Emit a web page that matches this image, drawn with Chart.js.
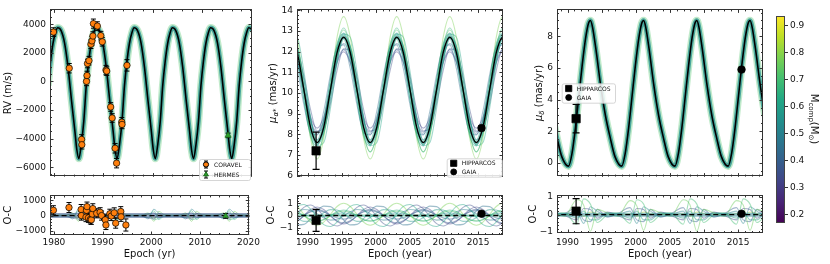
<!DOCTYPE html>
<html>
<head>
<meta charset="utf-8">
<script src="https://cdn.jsdelivr.net/npm/chart.js@4.4.1/dist/chart.umd.min.js"></script>
<style>
  html, body { margin: 0; padding: 0; background: #fff; }
  #page { position: relative; width: 830px; height: 264px; overflow: hidden; }
  canvas { position: absolute; }
</style>
</head>
<body>
<div id="page">
  <canvas id="rvMain" width="262" height="186" style="left:0;top:0"></canvas>
  <canvas id="rvRes" width="262" height="78" style="left:0;top:186px"></canvas>
  <canvas id="raMain" width="251" height="186" style="left:262px;top:0"></canvas>
  <canvas id="raRes" width="251" height="78" style="left:262px;top:186px"></canvas>
  <canvas id="decMain" width="257" height="186" style="left:516px;top:0"></canvas>
  <canvas id="decRes" width="257" height="78" style="left:516px;top:186px"></canvas>
  <canvas id="cbar" width="64" height="264" style="left:766px;top:0"></canvas>
</div>
<script>
// ====== 軸刻度 ======
const RV_X_TICKS = [1980, 1990, 2000, 2010, 2020];
const RV_Y_TICKS = [-6000, -4000, -2000, 0, 2000, 4000];
const RV_OC_TICKS = [-1000, 0, 1000];
const PM_X_TICKS = [1990, 1995, 2000, 2005, 2010, 2015];
const RA_Y_TICKS = [6, 7, 8, 9, 10, 11, 12, 13, 14];
const DEC_Y_TICKS = [0, 2, 4, 6, 8];
const PM_OC_TICKS = [-1, 0, 1];
const CBAR_TICKS = [0.2, 0.3, 0.4, 0.5, 0.6, 0.7, 0.8, 0.9];
const M_MIN = 0.168, M_MAX = 0.937;
const PM_X_MIN = 1988.45, PM_X_MAX = 2018.65;
const ZERO_X = [1975, 2025];
const ZERO_Y = [0, 0];

// ====== RV 最佳解曲線 ======
const RV_FIT_T = [1977.3, 1977.8, 1978.3, 1978.8, 1979.3, 1979.8, 1980.3, 1980.75,
  1981.45, 1982.15, 1982.85, 1983.55, 1984.25, 1984.65, 1985.05,
  1985.55, 1986.05, 1986.55, 1987.05, 1987.55, 1988.05, 1988.5,
  1989.2, 1989.9, 1990.6, 1991.3, 1992.0, 1992.4, 1992.8,
  1993.3, 1993.8, 1994.3, 1994.8, 1995.3, 1995.8, 1996.25,
  1996.95, 1997.65, 1998.35, 1999.05, 1999.75, 2000.15, 2000.55,
  2001.05, 2001.55, 2002.05, 2002.55, 2003.05, 2003.55, 2004.0,
  2004.7, 2005.4, 2006.1, 2006.8, 2007.5, 2007.9, 2008.3,
  2008.8, 2009.3, 2009.8, 2010.3, 2010.8, 2011.3, 2011.75,
  2012.45, 2013.15, 2013.85, 2014.55, 2015.25, 2015.65, 2016.05,
  2016.55, 2017.05, 2017.55, 2018.05, 2018.55, 2019.05, 2019.5,
  2020.2, 2020.9];
const RV_FIT = [-5400, -4400, -2800, -300, 1400, 2650, 3400, 3750,
  3550, 2700, 1000, -1300, -3500, -4800, -5400,
  -4400, -2800, -300, 1400, 2650, 3400, 3750,
  3550, 2700, 1000, -1300, -3500, -4800, -5400,
  -4400, -2800, -300, 1400, 2650, 3400, 3750,
  3550, 2700, 1000, -1300, -3500, -4800, -5400,
  -4400, -2800, -300, 1400, 2650, 3400, 3750,
  3550, 2700, 1000, -1300, -3500, -4800, -5400,
  -4400, -2800, -300, 1400, 2650, 3400, 3750,
  3550, 2700, 1000, -1300, -3500, -4800, -5400,
  -4400, -2800, -300, 1400, 2650, 3400, 3750,
  3550, 2700];

// ====== RV 觀測 ======
const CORAVEL_T = [1979.9, 1983.1, 1985.6, 1985.65, 1986.6, 1986.7, 1986.8, 1987.1, 1987.5, 1987.7, 1987.9, 1988.0,
  1988.8, 1989.5, 1989.8, 1990.55, 1990.7, 1991.5, 1991.8, 1992.4, 1992.7, 1993.75, 1993.8, 1994.8];
const CORAVEL_RV = [3450, 920, -4060, -4430, 0, 410, 1250, 1450, 2600, 2830, 3170, 4040,
  3870, 3200, 2770, 790, 720, -1790, -2560, -4680, -5720, -2850, -3010, 1120];
const CORAVEL_ERR = [300, 330, 330, 300, 300, 300, 300, 300, 300, 300, 300, 320,
  300, 300, 300, 330, 300, 300, 300, 330, 330, 320, 300, 400];
const CORAVEL_OC = [350, 530, 400, 0, -100, 350, 590, -150, -250, -280, 100, 460,
  150, 220, 0, -280, -620, 120, -30, 180, -500, 270, -80, -620];
const HERMES_T = [2015.3];
const HERMES_RV = [-3780];
const HERMES_ERR = [160];
const HERMES_OC = [-20];

// ====== RV 殘差樣本 ======
const RV_OC_T = [1979.5, 1982.55, 1983.85, 1985.05, 1986.05, 1987.25, 1990.3, 1991.6, 1992.8, 1993.8, 1995.0,
  1998.05, 1999.35, 2000.55, 2001.55, 2002.75, 2005.8, 2007.1, 2008.3, 2009.3, 2010.5,
  2013.55, 2014.85, 2016.05, 2017.05, 2018.25, 2021.3];
const RV_OC_MASS = [0.76, 0.66, 0.40, 0.33, 0.86, 0.50, 0.58];
const RV_OC_SAMPLES = [
  [60, 30, 180, -380, 280, 60, 30, 180, -380, 280, 60, 30, 180, -380, 280, 60, 30, 180, -380, 280, 60, 30, 180, -380, 280, 60, 30],
  [-20, -20, -120, 320, -260, -20, -20, -120, 320, -260, -20, -20, -120, 320, -260, -20, -20, -120, 320, -260, -20, -20, -120, 320, -260, -20, -20],
  [-60, 40, 120, 180, -120, -60, 40, 120, 180, -120, -60, 40, 120, 180, -120, -60, 40, 120, 180, -120, -60, 40, 120, 180, -120, -60, 40],
  [40, -50, -160, -220, 150, 40, -50, -160, -220, 150, 40, -50, -160, -220, 150, 40, -50, -160, -220, 150, 40, -50, -160, -220, 150, 40, -50],
  [10, 10, 90, -160, 110, 10, 10, 90, -160, 110, 10, 10, 90, -160, 110, 10, 10, 90, -160, 110, 10, 10, 90, -160, 110, 10, 10],
  [-40, -10, -220, 420, 160, -40, -10, -220, 420, 160, -40, -10, -220, 420, 160, -40, -10, -220, 420, 160, -40, -10, -220, 420, 160, -40, -10],
  [30, 20, 60, -250, -200, 30, 20, 60, -250, -200, 30, 20, 60, -250, -200, 30, 20, 60, -250, -200, 30, 20, 60, -250, -200, 30, 20]
];

// ====== μα* ======
const RA_T = [1987.51, 1988.48, 1989.46, 1990.43, 1991.4, 1992.37, 1993.35, 1994.32, 1995.29, 1996.26,
  1997.24, 1998.21, 1999.18, 2000.15, 2001.13, 2002.1, 2003.07, 2004.04, 2005.02, 2005.99,
  2006.96, 2007.93, 2008.91, 2009.88, 2010.85, 2011.82, 2012.8, 2013.77, 2014.74, 2015.71,
  2016.69, 2017.66, 2018.63, 2019.6, 2020.58];
const RA_FIT = [12.7, 11.95, 10.15, 8.35, 7.6, 8.35, 10.15, 11.95, 12.7, 11.95, 10.15, 8.35, 7.6, 8.35, 10.15, 11.95,
  12.7, 11.95, 10.15, 8.35, 7.6, 8.35, 10.15, 11.95, 12.7, 11.95, 10.15, 8.35, 7.6, 8.35, 10.15, 11.95, 12.7, 11.95, 10.15];
const RA_MASS = [0.78, 0.72, 0.62, 0.56, 0.45, 0.38, 0.32, 0.50, 0.66, 0.42, 0.58, 0.35];
const RA_SAMPLES = [
  [13.7, 12.69, 10.25, 7.81, 6.8, 7.81, 10.25, 12.69, 13.7, 12.69, 10.25, 7.81, 6.8, 7.81, 10.25, 12.69,
   13.7, 12.69, 10.25, 7.81, 6.8, 7.81, 10.25, 12.69, 13.7, 12.69, 10.25, 7.81, 6.8, 7.81, 10.25, 12.69, 13.7, 12.69, 10.25],
  [13.05, 12.19, 10.1, 8.01, 7.15, 8.01, 10.1, 12.19, 13.05, 12.19, 10.1, 8.01, 7.15, 8.01, 10.1, 12.19,
   13.05, 12.19, 10.1, 8.01, 7.15, 8.01, 10.1, 12.19, 13.05, 12.19, 10.1, 8.01, 7.15, 8.01, 10.1, 12.19, 13.05, 12.19, 10.1],
  [12.85, 12.7, 11.05, 8.88, 7.45, 7.6, 9.25, 11.42, 12.85, 12.7, 11.05, 8.88, 7.45, 7.6, 9.25, 11.42,
   12.85, 12.7, 11.05, 8.88, 7.45, 7.6, 9.25, 11.42, 12.85, 12.7, 11.05, 8.88, 7.45, 7.6, 9.25, 11.42, 12.85, 12.7, 11.05],
  [12.9, 12.11, 10.2, 8.29, 7.5, 8.29, 10.2, 12.11, 12.9, 12.11, 10.2, 8.29, 7.5, 8.29, 10.2, 12.11,
   12.9, 12.11, 10.2, 8.29, 7.5, 8.29, 10.2, 12.11, 12.9, 12.11, 10.2, 8.29, 7.5, 8.29, 10.2, 12.11, 12.9, 12.11, 10.2],
  [12.33, 11.18, 9.42, 8.09, 7.97, 9.12, 10.88, 12.21, 12.33, 11.18, 9.42, 8.09, 7.97, 9.12, 10.88, 12.21,
   12.33, 11.18, 9.42, 8.09, 7.97, 9.12, 10.88, 12.21, 12.33, 11.18, 9.42, 8.09, 7.97, 9.12, 10.88, 12.21, 12.33, 11.18, 9.42],
  [12.1, 11.51, 10.1, 8.69, 8.1, 8.69, 10.1, 11.51, 12.1, 11.51, 10.1, 8.69, 8.1, 8.69, 10.1, 11.51,
   12.1, 11.51, 10.1, 8.69, 8.1, 8.69, 10.1, 11.51, 12.1, 11.51, 10.1, 8.69, 8.1, 8.69, 10.1, 11.51, 12.1, 11.51, 10.1],
  [12.0, 11.46, 10.15, 8.84, 8.3, 8.84, 10.15, 11.46, 12.0, 11.46, 10.15, 8.84, 8.3, 8.84, 10.15, 11.46,
   12.0, 11.46, 10.15, 8.84, 8.3, 8.84, 10.15, 11.46, 12.0, 11.46, 10.15, 8.84, 8.3, 8.84, 10.15, 11.46, 12.0, 11.46, 10.15],
  [12.66, 12.25, 10.64, 8.77, 7.74, 8.15, 9.77, 11.64, 12.66, 12.25, 10.64, 8.77, 7.74, 8.15, 9.77, 11.64,
   12.66, 12.25, 10.64, 8.77, 7.74, 8.15, 9.77, 11.64, 12.66, 12.25, 10.64, 8.77, 7.74, 8.15, 9.77, 11.64, 12.66, 12.25, 10.64],
  [13.15, 12.27, 10.15, 8.03, 7.15, 8.03, 10.15, 12.27, 13.15, 12.27, 10.15, 8.03, 7.15, 8.03, 10.15, 12.27,
   13.15, 12.27, 10.15, 8.03, 7.15, 8.03, 10.15, 12.27, 13.15, 12.27, 10.15, 8.03, 7.15, 8.03, 10.15, 12.27, 13.15, 12.27, 10.15],
  [12.4, 11.76, 10.2, 8.64, 8.0, 8.64, 10.2, 11.76, 12.4, 11.76, 10.2, 8.64, 8.0, 8.64, 10.2, 11.76,
   12.4, 11.76, 10.2, 8.64, 8.0, 8.64, 10.2, 11.76, 12.4, 11.76, 10.2, 8.64, 8.0, 8.64, 10.2, 11.76, 12.4, 11.76, 10.2],
  [12.86, 11.73, 9.67, 7.9, 7.44, 8.57, 10.63, 12.4, 12.86, 11.73, 9.67, 7.9, 7.44, 8.57, 10.63, 12.4,
   12.86, 11.73, 9.67, 7.9, 7.44, 8.57, 10.63, 12.4, 12.86, 11.73, 9.67, 7.9, 7.44, 8.57, 10.63, 12.4, 12.86, 11.73, 9.67],
  [12.14, 12.03, 10.82, 9.21, 8.16, 8.27, 9.48, 11.09, 12.14, 12.03, 10.82, 9.21, 8.16, 8.27, 9.48, 11.09,
   12.14, 12.03, 10.82, 9.21, 8.16, 8.27, 9.48, 11.09, 12.14, 12.03, 10.82, 9.21, 8.16, 8.27, 9.48, 11.09, 12.14, 12.03, 10.82]
];
const RA_OC_SAMPLES = [
  [1.0, .74, .1, -.54, -.8, -.54, .1, .74, 1.0, .74, .1, -.54, -.8, -.54, .1, .74,
   1.0, .74, .1, -.54, -.8, -.54, .1, .74, 1.0, .74, .1, -.54, -.8, -.54, .1, .74, 1.0, .74, .1],
  [.35, .24, -.05, -.34, -.45, -.34, -.05, .24, .35, .24, -.05, -.34, -.45, -.34, -.05, .24,
   .35, .24, -.05, -.34, -.45, -.34, -.05, .24, .35, .24, -.05, -.34, -.45, -.34, -.05, .24, .35, .24, -.05],
  [.15, .75, .9, .53, -.15, -.75, -.9, -.53, .15, .75, .9, .53, -.15, -.75, -.9, -.53,
   .15, .75, .9, .53, -.15, -.75, -.9, -.53, .15, .75, .9, .53, -.15, -.75, -.9, -.53, .15, .75, .9],
  [.2, .16, .05, -.06, -.1, -.06, .05, .16, .2, .16, .05, -.06, -.1, -.06, .05, .16,
   .2, .16, .05, -.06, -.1, -.06, .05, .16, .2, .16, .05, -.06, -.1, -.06, .05, .16, .2, .16, .05],
  [-.37, -.77, -.73, -.26, .37, .77, .73, .26, -.37, -.77, -.73, -.26, .37, .77, .73, .26,
   -.37, -.77, -.73, -.26, .37, .77, .73, .26, -.37, -.77, -.73, -.26, .37, .77, .73, .26, -.37, -.77, -.73],
  [-.6, -.44, -.05, .34, .5, .34, -.05, -.44, -.6, -.44, -.05, .34, .5, .34, -.05, -.44,
   -.6, -.44, -.05, .34, .5, .34, -.05, -.44, -.6, -.44, -.05, .34, .5, .34, -.05, -.44, -.6, -.44, -.05],
  [-.7, -.49, 0, .49, .7, .49, 0, -.49, -.7, -.49, 0, .49, .7, .49, 0, -.49,
   -.7, -.49, 0, .49, .7, .49, 0, -.49, -.7, -.49, 0, .49, .7, .49, 0, -.49, -.7, -.49, 0],
  [-.04, .3, .49, .42, .14, -.2, -.38, -.31, -.04, .3, .49, .42, .14, -.2, -.38, -.31,
   -.04, .3, .49, .42, .14, -.2, -.38, -.31, -.04, .3, .49, .42, .14, -.2, -.38, -.31, -.04, .3, .49],
  [.45, .32, 0, -.32, -.45, -.32, 0, .32, .45, .32, 0, -.32, -.45, -.32, 0, .32,
   .45, .32, 0, -.32, -.45, -.32, 0, .32, .45, .32, 0, -.32, -.45, -.32, 0, .32, .45, .32, 0],
  [-.3, -.19, .05, .29, .4, .29, .05, -.19, -.3, -.19, .05, .29, .4, .29, .05, -.19,
   -.3, -.19, .05, .29, .4, .29, .05, -.19, -.3, -.19, .05, .29, .4, .29, .05, -.19, -.3, -.19, .05],
  [.16, -.22, -.48, -.45, -.16, .22, .48, .45, .16, -.22, -.48, -.45, -.16, .22, .48, .45,
   .16, -.22, -.48, -.45, -.16, .22, .48, .45, .16, -.22, -.48, -.45, -.16, .22, .48, .45, .16, -.22, -.48],
  [-.56, .08, .67, .86, .56, -.08, -.67, -.86, -.56, .08, .67, .86, .56, -.08, -.67, -.86,
   -.56, .08, .67, .86, .56, -.08, -.67, -.86, -.56, .08, .67, .86, .56, -.08, -.67, -.86, -.56, .08, .67]
];
const RA_OBS_T = [1991.25, 2015.5];
const RA_OBS = [7.2, 8.3];
const RA_OBS_ERR = [0.9, 0.12];
const RA_OBS_OC = [-0.4, 0.15];

// ====== μδ ======
const DEC_FIT_T = [1987.75, 1988.45, 1989.15, 1990.15, 1990.65, 1991.15, 1991.65, 1992.15, 1992.65, 1993.05, 1993.35,
  1993.65, 1994.15, 1994.85, 1995.55, 1996.25, 1996.95, 1997.95, 1998.45, 1998.95, 1999.45, 1999.95, 2000.45, 2000.85, 2001.15,
  2001.45, 2001.95, 2002.65, 2003.35, 2004.05, 2004.75, 2005.75, 2006.25, 2006.75, 2007.25, 2007.75, 2008.25, 2008.65, 2008.95,
  2009.25, 2009.75, 2010.45, 2011.15, 2011.85, 2012.55, 2013.55, 2014.05, 2014.55, 2015.05, 2015.55, 2016.05, 2016.45, 2016.75,
  2017.05, 2017.55, 2018.25, 2018.95, 2019.65];
const DEC_FIT = [3.0, 1.6, 0.4, -0.2, 0.6, 2.2, 4.2, 6.2, 7.9, 8.8, 9.0,
  8.6, 7.2, 4.9, 3.0, 1.6, 0.4, -0.2, 0.6, 2.2, 4.2, 6.2, 7.9, 8.8, 9.0,
  8.6, 7.2, 4.9, 3.0, 1.6, 0.4, -0.2, 0.6, 2.2, 4.2, 6.2, 7.9, 8.8, 9.0,
  8.6, 7.2, 4.9, 3.0, 1.6, 0.4, -0.2, 0.6, 2.2, 4.2, 6.2, 7.9, 8.8, 9.0,
  8.6, 7.2, 4.9, 3.0, 1.6];
const DEC_OC_T = [1988.05, 1989.55, 1991.35, 1992.35, 1993.35, 1994.35, 1995.85, 1997.35, 1999.15, 2000.15, 2001.15, 2002.15,
  2003.65, 2005.15, 2006.95, 2007.95, 2008.95, 2009.95, 2011.45, 2012.95, 2014.75, 2015.75, 2016.75, 2017.75, 2019.25, 2020.75];
const DEC_OC_MASS = [0.76, 0.70, 0.40, 0.34, 0.52, 0.60, 0.85];
const DEC_OC_SAMPLES = [
  [0.1, -0.1, 0.85, 0.55, -0.95, 0.3, 0.1, -0.1, 0.8, 0.5, -0.9, 0.3, 0.1, -0.1, 0.85, 0.55, -0.95, 0.3, 0.1, -0.1, 0.8, 0.55, -0.9, 0.3, 0.1, -0.1],
  [0.0, 0.1, -0.55, 0.9, 0.6, -0.45, 0.0, 0.1, -0.5, 0.85, 0.6, -0.45, 0.0, 0.1, -0.55, 0.9, 0.6, -0.45, 0.0, 0.1, -0.55, 0.9, 0.6, -0.45, 0.0, 0.1],
  [-0.15, 0.05, 0.4, -0.3, -0.4, 0.3, -0.15, 0.05, 0.4, -0.3, -0.4, 0.3, -0.15, 0.05, 0.4, -0.3, -0.4, 0.3, -0.15, 0.05, 0.4, -0.3, -0.4, 0.3, -0.15, 0.05],
  [0.15, -0.05, -0.3, 0.35, 0.3, -0.2, 0.15, -0.05, -0.3, 0.35, 0.3, -0.2, 0.15, -0.05, -0.3, 0.35, 0.3, -0.2, 0.15, -0.05, -0.3, 0.35, 0.3, -0.2, 0.15, -0.05],
  [-0.1, 0.0, 0.2, -0.5, 0.45, 0.2, -0.1, 0.0, 0.2, -0.5, 0.45, 0.2, -0.1, 0.0, 0.2, -0.5, 0.45, 0.2, -0.1, 0.0, 0.2, -0.5, 0.45, 0.2, -0.1, 0.0],
  [0.1, 0.05, -0.2, 0.2, -0.3, -0.3, 0.1, 0.05, -0.2, 0.2, -0.3, -0.3, 0.1, 0.05, -0.2, 0.2, -0.3, -0.3, 0.1, 0.05, -0.2, 0.2, -0.3, -0.3, 0.1, 0.05],
  [0.02, 0.0, 0.05, -0.1, 0.15, 0.05, 0.02, 0.0, 0.05, -0.1, 0.15, 0.05, 0.02, 0.0, 0.05, -0.1, 0.15, 0.05, 0.02, 0.0, 0.05, -0.1, 0.15, 0.05, 0.02, 0.0]
];
const DEC_OBS_T = [1991.25, 2015.5];
const DEC_OBS = [2.8, 5.9];
const DEC_OBS_ERR = [0.9, 0.12];
const DEC_OBS_OC = [0.2, 0.05];
const DEC_OBS_OC_ERR = [0.72, 0.08];

// ====== 顏色 ======
const VIRIDIS = ['#440154', '#482475', '#414487', '#355f8d', '#2a788e', '#21918c', '#22a884', '#44bf70', '#7ad151', '#bddf26', '#fde725'];
const ORANGE = '#ff7f0e';
const GREEN = '#2ca02c';

function hexRgb(h) { return [1, 3, 5].map(i => parseInt(h.substr(i, 2), 16)); }
function viridis(m, a) {
  let t = (m - M_MIN) / (M_MAX - M_MIN);
  t = Math.min(1, Math.max(0, t)) * 10;
  const i = Math.min(9, Math.floor(t)), f = t - i;
  const c0 = hexRgb(VIRIDIS[i]), c1 = hexRgb(VIRIDIS[i + 1]);
  const c = c0.map((v, k) => Math.round(v + (c1[k] - v) * f));
  return `rgba(${c[0]},${c[1]},${c[2]},${a == null ? 1 : a})`;
}
function pts(xs, ys) { return xs.map((x, i) => ({ x, y: ys[i] })); }
function minus(v) { return String(v).replace('-', '\u2212'); }

Chart.defaults.font.family = "'DejaVu Sans', sans-serif";
Chart.defaults.font.size = 9;
Chart.defaults.color = '#111';

// ====== 外框 + 內向刻度 ======
function stepVals(lo, hi, step) {
  const out = [];
  if (!step) return out;
  for (let k = Math.ceil(lo / step - 1e-9); k * step <= hi + 1e-9; k++) out.push(k * step);
  return out;
}
const frameTicks = {
  id: 'frameTicks',
  afterDatasetsDraw(chart, args, o) {
    const { ctx, chartArea: a } = chart;
    const xs = chart.scales.x, ys = chart.scales.y;
    ctx.save();
    ctx.strokeStyle = o.color || '#333';
    ctx.lineWidth = 1;
    ctx.strokeRect(Math.round(a.left) + 0.5, Math.round(a.top) + 0.5, Math.round(a.right - a.left) - 1, Math.round(a.bottom - a.top) - 1);
    const seg = (x1, y1, x2, y2) => { ctx.beginPath(); ctx.moveTo(x1, y1); ctx.lineTo(x2, y2); ctx.stroke(); };
    const doX = (vals, len) => vals.forEach(v => {
      const p = Math.round(xs.getPixelForValue(v)) + 0.5;
      if (p < a.left || p > a.right) return;
      seg(p, a.bottom, p, a.bottom - len); seg(p, a.top, p, a.top + len);
    });
    const doY = (vals, len) => vals.forEach(v => {
      const p = Math.round(ys.getPixelForValue(v)) + 0.5;
      if (p < a.top || p > a.bottom) return;
      seg(a.left, p, a.left + len, p); seg(a.right, p, a.right - len, p);
    });
    if (o.xTicks && o.xTicks.length) {
      doX(o.xTicks, 3.5);
      doX(stepVals(xs.min, xs.max, o.xMinor), 2);
    }
    if (o.yTicks && o.yTicks.length) {
      doY(o.yTicks, 3.5);
      doY(stepVals(ys.min, ys.max, o.yMinor), 2);
    }
    ctx.restore();
  }
};

// ====== 誤差棒 ======
const errorBars = {
  id: 'errorBars',
  beforeDatasetDraw(chart, args) {
    const ds = chart.data.datasets[args.index];
    if (!ds.errY) return;
    const { ctx, chartArea: a } = chart;
    const ys = chart.scales.y;
    ctx.save();
    ctx.beginPath(); ctx.rect(a.left, a.top, a.right - a.left, a.bottom - a.top); ctx.clip();
    ctx.strokeStyle = ds.errColor || '#000';
    ctx.lineWidth = ds.errWidth || 1;
    args.meta.data.forEach((pt, i) => {
      const v = ds.data[i].y, e = ds.errY[i];
      const y1 = ys.getPixelForValue(v - e), y2 = ys.getPixelForValue(v + e);
      const c = ds.errCap || 3;
      ctx.beginPath();
      ctx.moveTo(pt.x, y1); ctx.lineTo(pt.x, y2);
      ctx.moveTo(pt.x - c, y1); ctx.lineTo(pt.x + c, y1);
      ctx.moveTo(pt.x - c, y2); ctx.lineTo(pt.x + c, y2);
      ctx.stroke();
    });
    ctx.restore();
  }
};

// ====== 含上下標的軸標題 ======
function partFont(p) { return `${p.italic ? 'italic ' : ''}${p.size}px 'DejaVu Sans'`; }
const richLabels = {
  id: 'richLabels',
  afterDraw(chart, args, o) {
    const ctx = chart.ctx;
    (o.items || []).forEach(it => {
      ctx.save();
      ctx.translate(it.x, it.y);
      ctx.rotate(it.rot || 0);
      ctx.fillStyle = '#111';
      ctx.textBaseline = 'alphabetic';
      let w = 0;
      it.parts.forEach(p => { ctx.font = partFont(p); w += ctx.measureText(p.t).width; });
      let x = -w / 2;
      it.parts.forEach(p => {
        ctx.font = partFont(p);
        ctx.fillText(p.t, x, 3.6 + (p.dy || 0));
        x += ctx.measureText(p.t).width;
      });
      ctx.restore();
    });
  }
};

// ====== 圖例框 ======
const boxLegend = {
  id: 'boxLegend',
  afterDatasetsDraw(chart, args, o) {
    if (!o || !o.items) return;
    const ctx = chart.ctx;
    ctx.save();
    ctx.beginPath();
    if (ctx.roundRect) ctx.roundRect(o.x + 0.5, o.y + 0.5, o.w, o.h, 2); else ctx.rect(o.x + 0.5, o.y + 0.5, o.w, o.h);
    ctx.fillStyle = 'rgba(255,255,255,0.85)';
    ctx.fill();
    ctx.strokeStyle = '#cccccc';
    ctx.lineWidth = 0.8;
    ctx.stroke();
    o.items.forEach((it, i) => {
      const cy = o.y + o.row0 + i * o.rowH;
      const mx = o.x + o.mx;
      if (it.err) {
        ctx.strokeStyle = it.errColor || '#000';
        ctx.lineWidth = 1;
        ctx.beginPath();
        ctx.moveTo(mx, cy - it.err); ctx.lineTo(mx, cy + it.err);
        ctx.moveTo(mx - 2, cy - it.err); ctx.lineTo(mx + 2, cy - it.err);
        ctx.moveTo(mx - 2, cy + it.err); ctx.lineTo(mx + 2, cy + it.err);
        ctx.stroke();
      }
      ctx.fillStyle = it.color;
      ctx.strokeStyle = it.edge || it.color;
      Chart.helpers.drawPoint(ctx, { pointStyle: it.style, rotation: 0, radius: it.size, borderWidth: it.edgeW || 0.6 }, mx, cy);
      ctx.fillStyle = '#111';
      ctx.font = "6px 'DejaVu Sans'";
      ctx.textBaseline = 'middle';
      ctx.textAlign = 'left';
      ctx.fillText(it.label, o.x + o.tx, cy + 0.5);
    });
    ctx.restore();
  }
};

// ====== 資料集工具 ======
function curve(xs, ys, color, width, order, extra) {
  return Object.assign({ data: pts(xs, ys), borderColor: color, borderWidth: width, pointRadius: 0,
    cubicInterpolationMode: 'monotone', fill: false, order, clip: 0 }, extra || {});
}
function marks(xs, ys, errs, style, radius, fillC, edgeC, order, extra) {
  return Object.assign({ data: pts(xs, ys), showLine: false, pointStyle: style, pointRadius: radius,
    pointBackgroundColor: fillC, pointBorderColor: edgeC, pointBorderWidth: 0.7, errY: errs, order }, extra || {});
}

function panel(o) {
  return new Chart(document.getElementById(o.id), {
    type: 'line',
    data: { datasets: o.datasets },
    plugins: [frameTicks, errorBars, richLabels, boxLegend],
    options: {
      responsive: false, animation: false, events: [],
      layout: { padding: o.padding },
      scales: {
        x: {
          type: 'linear', min: o.xMin, max: o.xMax,
          afterBuildTicks: s => { s.ticks = o.xTicks.map(v => ({ value: v })); },
          afterFit: s => { s.height = o.xHeight; },
          grid: { display: false, drawTicks: false, tickLength: 0 }, border: { display: false },
          ticks: { display: !!o.showX, padding: o.xPad || 2, maxRotation: 0, autoSkip: false, callback: v => String(v) },
          title: { display: !!o.xTitle, text: o.xTitle || '', font: { size: 10 }, padding: { top: 0, bottom: 4 } }
        },
        y: {
          type: 'linear', min: o.yMin, max: o.yMax,
          afterBuildTicks: s => { s.ticks = o.yTicks.map(v => ({ value: v })); },
          afterFit: s => { s.width = o.yWidth; },
          grid: { display: false, drawTicks: false, tickLength: 0 }, border: { display: false },
          ticks: { padding: 4, autoSkip: false, callback: v => minus(v) },
          title: { display: !!o.yTitle, text: o.yTitle || '', font: { size: 10 }, padding: { top: o.yTitlePad || 2, bottom: 0 } }
        }
      },
      plugins: {
        legend: { display: false }, tooltip: { enabled: false },
        frameTicks: { xTicks: o.xTicks, yTicks: o.yTicks, xMinor: o.xMinor, yMinor: o.yMinor },
        richLabels: { items: o.rich || [] },
        boxLegend: o.legend || {}
      }
    }
  });
}

// ====== 左：RV ======
panel({
  id: 'rvMain', padding: { left: 0, top: 5, right: 10, bottom: 4 }, yWidth: 50, xHeight: 0,
  xMin: 1979.2, xMax: 2020.15, yMin: -6660, yMax: 5035,
  xTicks: RV_X_TICKS, yTicks: RV_Y_TICKS, xMinor: 2, yMinor: 500, yTitle: 'RV (m/s)',
  datasets: [
    marks(CORAVEL_T, CORAVEL_RV, CORAVEL_ERR, 'circle', 3.2, ORANGE, '#000', 0, { errCap: 2.5 }),
    marks(HERMES_T, HERMES_RV, HERMES_ERR, 'triangle', 3.6, GREEN, '#1d6b1d', 0, { errCap: 2.5 }),
    curve(RV_FIT_T, RV_FIT, '#000', 1.6, 1),
    curve(RV_FIT_T, RV_FIT, viridis(0.55, 0.75), 4.5, 2),
    curve(RV_FIT_T, RV_FIT, viridis(0.72, 0.35), 7.5, 3)
  ],
  legend: { x: 199, y: 159, w: 51, h: 21, row0: 5.5, rowH: 10, mx: 7, tx: 15, items: [
    { label: 'CORAVEL', style: 'circle', size: 2.6, color: ORANGE, edge: '#000', err: 3.5 },
    { label: 'HERMES', style: 'triangle', size: 2.8, color: GREEN, edge: '#1d6b1d', err: 3.5 }
  ] }
});
panel({
  id: 'rvRes', padding: { left: 0, top: 2, right: 10, bottom: 0 }, yWidth: 50, xHeight: 29,
  xMin: 1979.2, xMax: 2020.15, yMin: -1280, yMax: 1330, showX: true, xPad: 2,
  xTicks: RV_X_TICKS, yTicks: RV_OC_TICKS, xMinor: 2, yMinor: 200, yTitle: 'O-C', xTitle: 'Epoch (yr)',
  datasets: [
    marks(CORAVEL_T, CORAVEL_OC, CORAVEL_ERR, 'circle', 3.2, ORANGE, '#000', 0, { errCap: 2.5 }),
    marks(HERMES_T, HERMES_OC, HERMES_ERR, 'triangle', 3.2, GREEN, '#1d6b1d', 0, { errCap: 2.5 }),
    curve(ZERO_X, ZERO_Y, '#000', 1.4, 1, { borderDash: [5, 3], cubicInterpolationMode: 'default' }),
    curve(ZERO_X, ZERO_Y, viridis(0.38, 0.55), 5, 2, { cubicInterpolationMode: 'default' })
  ].concat(RV_OC_SAMPLES.map((ys, i) => curve(RV_OC_T, ys, viridis(RV_OC_MASS[i], 0.45), 1, 3)))
});

// ====== 中：μα* ======
panel({
  id: 'raMain', padding: { left: 0, top: 5, right: 10, bottom: 5 }, yWidth: 35, xHeight: 0,
  xMin: PM_X_MIN, xMax: PM_X_MAX, yMin: 5.95, yMax: 14.05,
  xTicks: PM_X_TICKS, yTicks: RA_Y_TICKS, xMinor: 1, yMinor: 0.2,
  rich: [{ x: 10, y: 93, rot: -Math.PI / 2, parts: [
    { t: '\u03bc', size: 10, italic: true }, { t: '\u03b1*', size: 7, italic: true, dy: 2.5 }, { t: ' (mas/yr)', size: 10 }] }],
  datasets: [
    marks([RA_OBS_T[0]], [RA_OBS[0]], [RA_OBS_ERR[0]], 'rect', 5.9, '#000', '#000', 0, { errCap: 3.5, errWidth: 1.2 }),
    marks([RA_OBS_T[1]], [RA_OBS[1]], [RA_OBS_ERR[1]], 'circle', 3.8, '#000', '#000', 0, { errCap: 3, errWidth: 1.2 }),
    curve(RA_T, RA_FIT, '#000', 1.4, 1),
    curve(RA_T, RA_FIT, viridis(0.6, 0.45), 4.5, 2)
  ].concat(RA_SAMPLES.map((ys, i) => curve(RA_T, ys, viridis(RA_MASS[i], 0.42), 1.1, 3))),
  legend: { x: 184.7, y: 158.3, w: 55, h: 18.4, row0: 5, rowH: 8.6, mx: 7, tx: 15, items: [
    { label: 'HIPPARCOS', style: 'rect', size: 4.4, color: '#000' },
    { label: 'GAIA', style: 'circle', size: 3, color: '#000' }
  ] }
});
panel({
  id: 'raRes', padding: { left: 0, top: 3, right: 10, bottom: 0 }, yWidth: 35, xHeight: 29,
  xMin: PM_X_MIN, xMax: PM_X_MAX, yMin: -1.6, yMax: 1.65, showX: true, xPad: 2,
  xTicks: PM_X_TICKS, yTicks: PM_OC_TICKS, xMinor: 1, yMinor: 0.2, yTitle: 'O-C', yTitlePad: 3, xTitle: 'Epoch (year)',
  datasets: [
    marks([RA_OBS_T[0]], [RA_OBS_OC[0]], [RA_OBS_ERR[0]], 'rect', 5.9, '#000', '#000', 0, { errCap: 3.5, errWidth: 1.2 }),
    marks([RA_OBS_T[1]], [RA_OBS_OC[1]], [RA_OBS_ERR[1]], 'circle', 3.8, '#000', '#000', 0, { errCap: 3 }),
    curve(ZERO_X, ZERO_Y, '#000', 1.4, 1, { borderDash: [5, 3], cubicInterpolationMode: 'default' }),
    curve(ZERO_X, ZERO_Y, viridis(0.65, 0.5), 2, 2, { cubicInterpolationMode: 'default' })
  ].concat(RA_OC_SAMPLES.map((ys, i) => curve(RA_T, ys, viridis(RA_MASS[i], 0.45), 1.1, 3)))
});

// ====== 右：μδ ======
panel({
  id: 'decMain', padding: { left: 0, top: 4, right: 10, bottom: 4 }, yWidth: 41, xHeight: 0,
  xMin: PM_X_MIN, xMax: PM_X_MAX, yMin: -0.86, yMax: 9.7,
  xTicks: PM_X_TICKS, yTicks: DEC_Y_TICKS, xMinor: 1, yMinor: 0.5,
  rich: [{ x: 22, y: 93, rot: -Math.PI / 2, parts: [
    { t: '\u03bc', size: 10, italic: true }, { t: '\u03b4', size: 7, italic: true, dy: 2.5 }, { t: ' (mas/yr)', size: 10 }] }],
  datasets: [
    marks([DEC_OBS_T[0]], [DEC_OBS[0]], [DEC_OBS_ERR[0]], 'rect', 5.9, '#000', '#000', 0, { errCap: 3.5, errWidth: 1.2 }),
    marks([DEC_OBS_T[1]], [DEC_OBS[1]], [DEC_OBS_ERR[1]], 'circle', 3.8, '#000', '#000', 0, { errCap: 3, errWidth: 1.2 }),
    curve(DEC_FIT_T, DEC_FIT, '#000', 1.6, 1),
    curve(DEC_FIT_T, DEC_FIT, viridis(0.55, 0.75), 4.5, 2),
    curve(DEC_FIT_T, DEC_FIT, viridis(0.72, 0.35), 7.5, 3)
  ],
  legend: { x: 45.7, y: 83.3, w: 53.3, h: 19.4, row0: 5.2, rowH: 9, mx: 7, tx: 15, items: [
    { label: 'HIPPARCOS', style: 'rect', size: 4.4, color: '#000' },
    { label: 'GAIA', style: 'circle', size: 3, color: '#000' }
  ] }
});
panel({
  id: 'decRes', padding: { left: 0, top: 4, right: 10, bottom: 0 }, yWidth: 41, xHeight: 31,
  xMin: PM_X_MIN, xMax: PM_X_MAX, yMin: -1.05, yMax: 1.1, showX: true, xPad: 4,
  xTicks: PM_X_TICKS, yTicks: PM_OC_TICKS, xMinor: 1, yMinor: 0.2, yTitle: 'O-C', yTitlePad: 11, xTitle: 'Epoch (year)',
  datasets: [
    marks([DEC_OBS_T[0]], [DEC_OBS_OC[0]], [DEC_OBS_OC_ERR[0]], 'rect', 5.9, '#000', '#000', 0, { errCap: 3.5, errWidth: 1.2 }),
    marks([DEC_OBS_T[1]], [DEC_OBS_OC[1]], [DEC_OBS_OC_ERR[1]], 'circle', 3.8, '#000', '#000', 0, { errCap: 3 }),
    curve(ZERO_X, ZERO_Y, '#000', 1.4, 1, { borderDash: [5, 3], cubicInterpolationMode: 'default' }),
    curve(ZERO_X, ZERO_Y, viridis(0.5, 0.5), 4, 2, { cubicInterpolationMode: 'default' })
  ].concat(DEC_OC_SAMPLES.map((ys, i) => curve(DEC_OC_T, ys, viridis(DEC_OC_MASS[i], 0.45), 1.1, 3)))
});

// ====== 色條 ======
function cbarGradient(chart) {
  const a = chart.chartArea;
  if (!a) return VIRIDIS[5];
  const g = chart.ctx.createLinearGradient(0, a.bottom, 0, a.top);
  VIRIDIS.forEach((c, i) => g.addColorStop(i / (VIRIDIS.length - 1), c));
  return g;
}
new Chart(document.getElementById('cbar'), {
  type: 'bar',
  data: { labels: [''], datasets: [{ data: [[M_MIN, M_MAX]], backgroundColor: c => cbarGradient(c.chart),
    borderWidth: 0, barPercentage: 1, categoryPercentage: 1 }] },
  plugins: [frameTicks, richLabels],
  options: {
    responsive: false, animation: false, events: [],
    layout: { padding: { left: 10, top: 16, right: 0, bottom: 41 } },
    scales: {
      x: { display: false },
      y: {
        position: 'right', min: M_MIN, max: M_MAX,
        afterBuildTicks: s => { s.ticks = CBAR_TICKS.map(v => ({ value: v })); },
        afterFit: s => { s.width = 45; },
        grid: { display: true, drawOnChartArea: false, drawTicks: true, tickLength: 3, color: '#333' },
        border: { display: false },
        ticks: { padding: 2, callback: v => Number(v).toFixed(1) }
      }
    },
    plugins: {
      legend: { display: false }, tooltip: { enabled: false },
      frameTicks: { xTicks: [], yTicks: [], color: '#444' },
      richLabels: { items: [{ x: 49, y: 119, rot: Math.PI / 2, parts: [
        { t: 'M', size: 10 }, { t: 'comp', size: 7, dy: 2.5 }, { t: '(M', size: 10 }, { t: '\u2299', size: 7, dy: 2.5 }, { t: ')', size: 10 }] }] }
    }
  }
});
</script>
</body>
</html>
